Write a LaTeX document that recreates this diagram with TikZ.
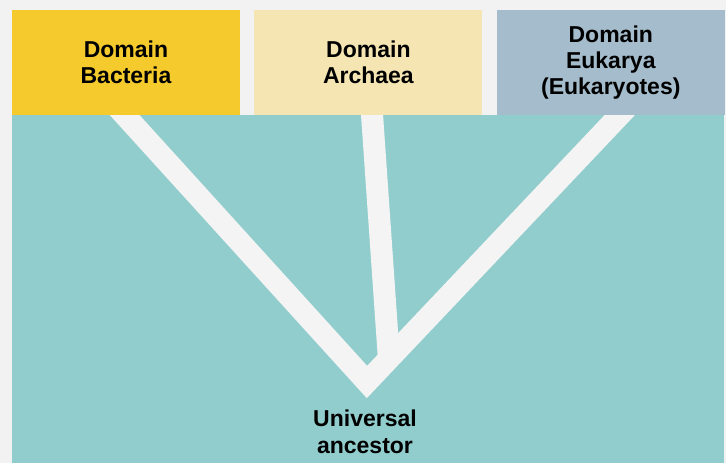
\documentclass[tikz,border=0pt]{standalone}
\usepackage{fontspec}
\setmainfont{Liberation Sans}
\usetikzlibrary{positioning}
\definecolor{pagegray}{HTML}{F2F2F2}
\definecolor{treeteal}{HTML}{92CDCD}
\definecolor{bactyellow}{HTML}{F5CA2C}
\definecolor{archcream}{HTML}{F4E5B2}
\definecolor{eukblue}{HTML}{A4BCCB}
\definecolor{branchwhite}{HTML}{F4F4F4}

\begin{document}
\begin{tikzpicture}[
    x=1pt, y=-1pt,
    domainbox/.style={rectangle, inner sep=0pt, minimum width=228pt, minimum height=105pt, align=center, font=\bfseries\fontsize{23}{26}\selectfont},
    branch/.style={draw=branchwhite, line width=22pt, line join=miter}
]
% Background
\fill[pagegray] (0,0) rectangle (726,463);
\fill[treeteal] (12,115) rectangle (724,463);

% Domains
\node (bacteria) [domainbox, fill=bactyellow] at (126,62.5) {Domain\\Bacteria};
\node (archaea) [domainbox, fill=archcream, right=14pt of bacteria] {Domain\\Archaea};
\node (eukarya) [domainbox, fill=eukblue, right=14pt of archaea] {Domain\\Eukarya\\(Eukaryotes)};

% Root
\node (ancestor) [font=\bfseries\fontsize{23}{27}\selectfont, align=center] at (365,432) {Universal\\ancestor};

% Tree
\coordinate (root) at (367,382);
\coordinate (split) at (389,360);
\coordinate (bacttop) at (111,100);
\coordinate (archtop) at (371,100);
\coordinate (euktop) at (634,100);
\begin{scope}
\clip (12,115) rectangle (724,463);
\draw [branch] (archtop) -- (split);
\draw [branch] (bacttop) -- (root) -- (euktop);
\end{scope}

\end{tikzpicture}
\end{document}
